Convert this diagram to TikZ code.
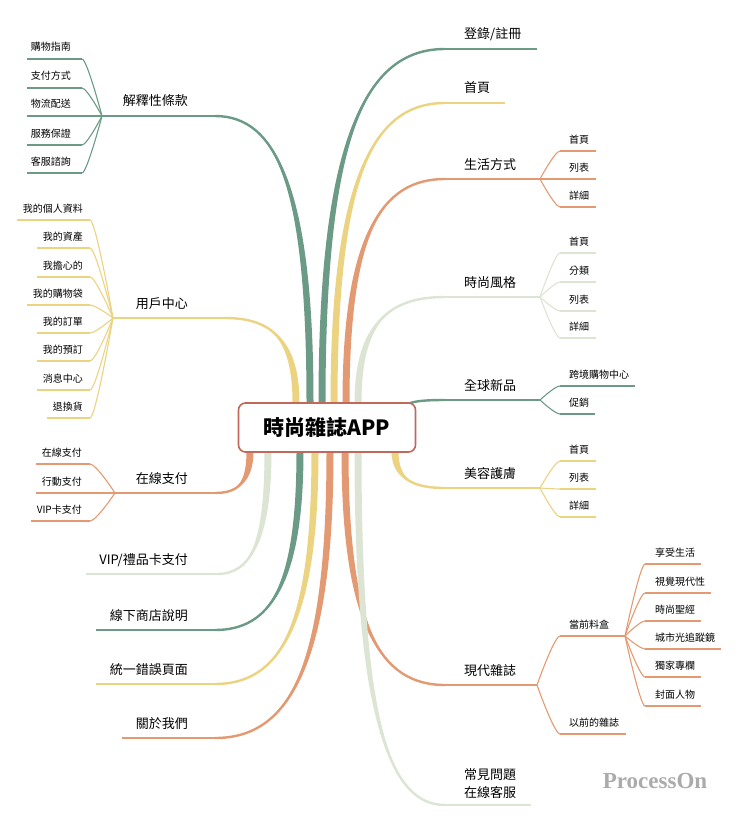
\documentclass[tikz,border=0pt]{standalone}
\usepackage{fontspec}
\setmainfont{Noto Sans CJK TC}
\newfontfamily\markfont{Liberation Serif}
\usetikzlibrary{calc}

\definecolor{moss}{HTML}{6B9A86}
\definecolor{straw}{HTML}{EBD382}
\definecolor{clay}{HTML}{E39A72}
\definecolor{sage}{HTML}{DCE4D4}
\definecolor{rim}{HTML}{C0695A}

\tikzset{
  hub/.style={draw=rim, line width=1.6pt, fill=white, rounded corners=7pt,
    minimum width=177pt, minimum height=49pt, font=\fontsize{21}{25}\selectfont\bfseries},
  topic/.style={inner sep=0pt, font=\fontsize{13}{16}\selectfont},
  leaf/.style={inner sep=0pt, font=\fontsize{10}{12}\selectfont},
  twig/.style={line width=1.1pt},
  rule/.style={line width=2.4pt},
}

% tapered main branch: colour, from, to
\newcommand{\bough}[3]{%
  \fill[#1] let \p1=(#2), \p2=(#3) in
    (\x1-3.5pt,\y1) .. controls (\x1-3.5pt,{\y1+0.75*(\y2-\y1)}) and ({\x1+0.35*(\x2-\x1)},\y2) .. (\x2,\y2)
    .. controls ({\x1+0.35*(\x2-\x1)},\y2) and (\x1+3.5pt,{\y1+0.75*(\y2-\y1)}) .. (\x1+3.5pt,\y1) -- cycle;
  \draw[#1, rule] let \p1=(#2), \p2=(#3) in
    (\x1,\y1) .. controls (\x1,{\y1+0.75*(\y2-\y1)}) and ({\x1+0.35*(\x2-\x1)},\y2) .. (\x2,\y2);
}
% thin fork from a split point: colour, from, to
\newcommand{\twig}[3]{%
  \draw[twig, #1] (#2) .. controls (#2) and ($(#2 |- #3)!0.75!(#3)$) .. (#3);
}

\begin{document}
\begin{tikzpicture}[x=1pt,y=-1pt]
\useasboundingbox (0,0) rectangle (740,824);

%branch roots on the hub
\coordinate (o-r1) at (322,403);
\coordinate (o-r2) at (334,403);
\coordinate (o-r3) at (346,403);
\coordinate (o-r4) at (358,403);
\coordinate (o-r5) at (405,408);
\coordinate (o-r6) at (395,451);
\coordinate (o-r7) at (345,451);
\coordinate (o-r8) at (358,451);
\coordinate (o-l1) at (310,403);
\coordinate (o-l2) at (296,403);
\coordinate (o-l3) at (250,451);
\coordinate (o-l4) at (268,451);
\coordinate (o-l5) at (300,451);
\coordinate (o-l6) at (315,451);
\coordinate (o-l7) at (330,451);

%right: topics without children
\node[topic, anchor=base west] (r1) at (464,39) {登錄/註冊};
\coordinate (r1-l) at (445,49);
\coordinate (r1-r) at ($(r1.east |- r1-l)+(15,0)$);
\draw[rule, moss] (r1-l) -- (r1-r);
\bough{moss}{o-r1}{r1-l}

\node[topic, anchor=base west] (r2) at (464,93) {首頁};
\coordinate (r2-l) at (445,103);
\coordinate (r2-r) at ($(r2.east |- r2-l)+(15,0)$);
\draw[rule, straw] (r2-l) -- (r2-r);
\bough{straw}{o-r2}{r2-l}

%right: 生活方式
\node[topic, anchor=base west] (r3) at (464,169) {生活方式};
\coordinate (r3-l) at (445,179);
\coordinate (r3-r) at (540,179);
\draw[rule, clay] (r3-l) -- (r3-r);
\bough{clay}{o-r3}{r3-l}
\foreach \t/\y [count=\i] in {首頁/151, 列表/179, 詳細/207}{
  \node[leaf, anchor=base west] (r3-\i) at (569,\y-8) {\t};
  \coordinate (r3-\i-l) at (560,\y);
  \twig{clay}{r3-r}{r3-\i-l}
  \draw[twig, clay] (r3-\i-l) -- ($(r3-\i.east |- r3-\i-l)+(7,0)$);
}

%right: 時尚風格
\node[topic, anchor=base west] (r4) at (464,287) {時尚風格};
\coordinate (r4-l) at (445,297);
\coordinate (r4-r) at (540,297);
\bough{sage}{o-r4}{r4-l}
\draw[rule, sage] (r4-l) -- (r4-r);
\foreach \t/\y [count=\i] in {首頁/253, 分類/282, 列表/311, 詳細/338}{
  \node[leaf, anchor=base west] (r4-\i) at (569,\y-8) {\t};
  \coordinate (r4-\i-l) at (560,\y);
  \twig{sage}{r4-r}{r4-\i-l}
  \draw[twig, sage] (r4-\i-l) -- ($(r4-\i.east |- r4-\i-l)+(7,0)$);
}

%right: 全球新品
\node[topic, anchor=base west] (r5) at (464,390) {全球新品};
\coordinate (r5-l) at (445,400);
\coordinate (r5-r) at (540,400);
\draw[rule, moss] (r5-l) -- (r5-r);
\bough{moss}{o-r5}{r5-l}
\foreach \t/\y [count=\i] in {跨境購物中心/386, 促銷/414}{
  \node[leaf, anchor=base west] (r5-\i) at (569,\y-8) {\t};
  \coordinate (r5-\i-l) at (560,\y);
  \twig{moss}{r5-r}{r5-\i-l}
  \draw[twig, moss] (r5-\i-l) -- ($(r5-\i.east |- r5-\i-l)+(6,0)$);
}

%right: 美容護膚
\node[topic, anchor=base west] (r6) at (464,478) {美容護膚};
\coordinate (r6-l) at (445,488);
\coordinate (r6-r) at (540,488);
\draw[rule, straw] (r6-l) -- (r6-r);
\bough{straw}{o-r6}{r6-l}
\foreach \t/\y [count=\i] in {首頁/461, 列表/489, 詳細/517}{
  \node[leaf, anchor=base west] (r6-\i) at (569,\y-8) {\t};
  \coordinate (r6-\i-l) at (560,\y);
  \twig{straw}{r6-r}{r6-\i-l}
  \draw[twig, straw] (r6-\i-l) -- ($(r6-\i.east |- r6-\i-l)+(7,0)$);
}

%right: 現代雜誌
\node[topic, anchor=base west] (r7) at (464,675) {現代雜誌};
\coordinate (r7-l) at (445,685);
\coordinate (r7-r) at (537,685);
\draw[rule, clay] (r7-l) -- (r7-r);
\bough{clay}{o-r7}{r7-l}
\node[leaf, anchor=base west] (r7-1) at (569,628) {當前料盒};
\coordinate (r7-1-l) at (560,636);
\coordinate (r7-1-r) at (625,636);
\twig{clay}{r7-r}{r7-1-l}
\draw[twig, clay] (r7-1-l) -- (r7-1-r);
\node[leaf, anchor=base west] (r7-2) at (569,726) {以前的雜誌};
\coordinate (r7-2-l) at (560,734);
\twig{clay}{r7-r}{r7-2-l}
\draw[twig, clay] (r7-2-l) -- ($(r7-2.east |- r7-2-l)+(7,0)$);
\foreach \t/\y [count=\i] in {享受生活/564, 視覺現代性/593, 時尚聖經/621, 城市光追蹤鏡/649, 獨家專欄/677, 封面人物/706}{
  \node[leaf, anchor=base west] (r7-1-\i) at (655,\y-8) {\t};
  \coordinate (r7-1-\i-l) at (645,\y);
  \twig{clay}{r7-1-r}{r7-1-\i-l}
  \draw[twig, clay] (r7-1-\i-l) -- ($(r7-1-\i.east |- r7-1-\i-l)+(6,0)$);
}

%right: 常見問題
\node[topic, anchor=south west, align=left, font=\fontsize{13}{18}\selectfont] (r8) at (464,799) {常見問題\\在線客服};
\coordinate (r8-l) at (445,805);
\coordinate (r8-r) at ($(r8.east |- r8-l)+(15,0)$);
\bough{sage}{o-r8}{r8-l}
\draw[rule, sage] (r8-l) -- (r8-r);

%left: 解釋性條款
\node[topic, anchor=base east] (l1) at (188,106) {解釋性條款};
\coordinate (l1-l) at (102,116);
\coordinate (l1-r) at (215,116);
\draw[rule, moss] (l1-l) -- (l1-r);
\bough{moss}{o-l1}{l1-r}
\foreach \t/\y [count=\i] in {購物指南/59, 支付方式/88, 物流配送/116, 服務保證/145, 客服諮詢/173}{
  \node[leaf, anchor=base east] (l1-\i) at (71,\y-8) {\t};
  \coordinate (l1-\i-r) at (82,\y);
  \twig{moss}{l1-l}{l1-\i-r}
  \draw[twig, moss] (l1-\i-r) -- ($(l1-\i.west |- l1-\i-r)+(-4,0)$);
}

%left: 用戶中心
\node[topic, anchor=base east] (l2) at (188,308) {用戶中心};
\coordinate (l2-l) at (113,318);
\coordinate (l2-r) at (225,318);
\draw[rule, straw] (l2-l) -- (l2-r);
\bough{straw}{o-l2}{l2-r}
\foreach \t/\y [count=\i] in {我的個人資料/220, 我的資產/248, 我擔心的/277, 我的購物袋/305, 我的訂單/333, 我的預訂/361, 消息中心/390, 退換貨/418}{
  \node[leaf, anchor=base east] (l2-\i) at (83,\y-8) {\t};
  \coordinate (l2-\i-r) at (90,\y);
  \twig{straw}{l2-l}{l2-\i-r}
  \draw[twig, straw] (l2-\i-r) -- ($(l2-\i.west |- l2-\i-r)+(-6,0)$);
}

%left: 在線支付
\node[topic, anchor=base east] (l3) at (188,483) {在線支付};
\coordinate (l3-l) at (115,493);
\coordinate (l3-r) at (215,493);
\draw[rule, clay] (l3-l) -- (l3-r);
\bough{clay}{o-l3}{l3-r}
\foreach \t/\y [count=\i] in {在線支付/464, 行動支付/493, VIP卡支付/521}{
  \node[leaf, anchor=base east] (l3-\i) at (82,\y-8) {\t};
  \coordinate (l3-\i-r) at (90,\y);
  \twig{clay}{l3-l}{l3-\i-r}
  \draw[twig, clay] (l3-\i-r) -- ($(l3-\i.west |- l3-\i-r)+(-6,0)$);
}

%left: topics without children
\node[topic, anchor=base east] (l4) at (188,564) {VIP/禮品卡支付};
\coordinate (l4-r) at (217,574);
\coordinate (l4-l) at ($(l4.west |- l4-r)+(-13,0)$);
\bough{sage}{o-l4}{l4-r}
\draw[rule, sage] (l4-l) -- (l4-r);

\node[topic, anchor=base east] (l5) at (188,620) {線下商店說明};
\coordinate (l5-r) at (215,630);
\coordinate (l5-l) at ($(l5.west |- l5-r)+(-14,0)$);
\draw[rule, moss] (l5-l) -- (l5-r);
\bough{moss}{o-l5}{l5-r}

\node[topic, anchor=base east] (l6) at (188,674) {統一錯誤頁面};
\coordinate (l6-r) at (215,684);
\coordinate (l6-l) at ($(l6.west |- l6-r)+(-14,0)$);
\draw[rule, straw] (l6-l) -- (l6-r);
\bough{straw}{o-l6}{l6-r}

\node[topic, anchor=base east] (l7) at (188,728) {關於我們};
\coordinate (l7-r) at (215,738);
\coordinate (l7-l) at ($(l7.west |- l7-r)+(-14,0)$);
\draw[rule, clay] (l7-l) -- (l7-r);
\bough{clay}{o-l7}{l7-r}

%hub
\node[hub] (app) at (327,427.5) {時尚雜誌APP};

%watermark
\node[font=\markfont\fontsize{23}{27}\selectfont\bfseries, text=black!33] (mark) at (655,781) {ProcessOn};
\end{tikzpicture}
\end{document}
